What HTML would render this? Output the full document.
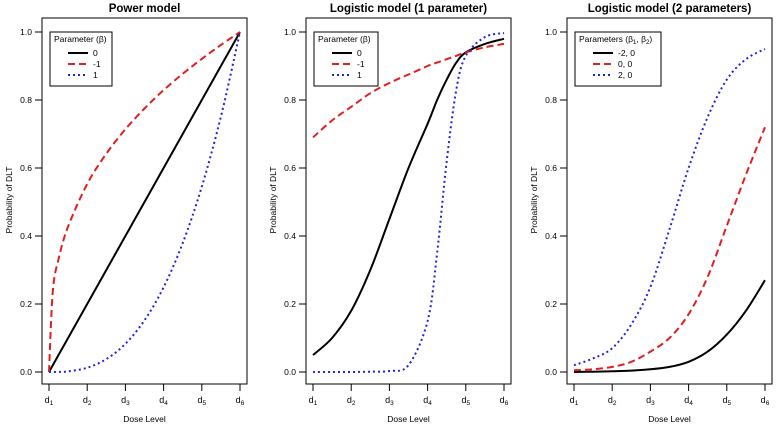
<!DOCTYPE html>
<html><head><meta charset="utf-8"><style>
body{margin:0;background:#fff}
svg{display:block;font-family:"Liberation Sans",Arial,sans-serif}
</style></head><body>
<svg id="c" width="778" height="427"></svg>
<script>
const doseLabels=["1","2","3","4","5","6"];
const yTicks=[0,0.2,0.4,0.6,0.8,1.0];
const panelTitles=["Power model","Logistic model (1 parameter)","Logistic model (2 parameters)"];
const legendTitles=["Parameter (\u03B2)","Parameter (\u03B2)","Parameters (\u03B2<tspan font-size='6' dy='2'>1</tspan><tspan dy='-2'>, \u03B2</tspan><tspan font-size='6' dy='2'>2</tspan><tspan dy='-2'>)</tspan>"];
const legendLabels=[["0","-1","1"],["0","-1","1"],["-2, 0","0, 0","2, 0"]];
const powerX=[1,1.1,1.25,1.5,2,2.5,3,3.5,4,4.5,5,5.5,6];
const powerBlack=[0,0.02,0.05,0.1,0.2,0.3,0.4,0.5,0.6,0.7,0.8,0.9,1];
const powerRed=[0,0.237,0.332,0.428,0.553,0.642,0.714,0.775,0.829,0.877,0.921,0.962,1];
const powerBlue=[0,0,0.0003,0.0019,0.0126,0.038,0.083,0.152,0.249,0.379,0.545,0.751,1];
const log1X=[1,1.5,2,2.5,3,3.5,4,4.25,4.5,4.75,5,5.5,6];
const log1Black=[0.05,0.10,0.18,0.30,0.45,0.60,0.73,0.80,0.86,0.91,0.94,0.965,0.98];
const log1Red=[0.69,0.74,0.78,0.82,0.85,0.875,0.90,0.91,0.92,0.93,0.94,0.955,0.965];
const log1Blue=[0,0,0,0.001,0.003,0.02,0.15,0.35,0.62,0.83,0.93,0.985,0.997];
const log2X=[1,1.5,2,2.5,3,3.5,4,4.5,5,5.5,6];
const log2Black=[0,0.001,0.002,0.004,0.008,0.015,0.03,0.06,0.11,0.18,0.27];
const log2Red=[0.005,0.008,0.015,0.03,0.06,0.1,0.17,0.28,0.43,0.58,0.72];
const log2Blue=[0.02,0.04,0.07,0.14,0.25,0.42,0.6,0.75,0.86,0.92,0.95];
const panels=[[powerX,[powerBlack,powerRed,powerBlue]],[log1X,[log1Black,log1Red,log1Blue]],[log2X,[log2Black,log2Red,log2Blue]]];
const boxL=[42,306,567],boxW=205,boxT=18,boxB=384;
const styles=[{c:"#000",d:""},{c:"#df2020",d:"7,4"},{c:"#2222dd",d:"2,3"}];
const svg=document.getElementById('c');const NS="http://www.w3.org/2000/svg";
function mk(t,a,p){const e=document.createElementNS(NS,t);for(const k in a)e.setAttribute(k,a[k]);(p||svg).appendChild(e);return e;}
function yS(v){return 372-v*340;}
function smooth(pts){let d="M"+pts[0][0]+","+pts[0][1];for(let i=0;i<pts.length-1;i++){const p0=pts[Math.max(0,i-1)],p1=pts[i],p2=pts[i+1],p3=pts[Math.min(pts.length-1,i+2)];
const c1=[p1[0]+(p2[0]-p0[0])/6,p1[1]+(p2[1]-p0[1])/6],c2=[p2[0]-(p3[0]-p1[0])/6,p2[1]-(p3[1]-p1[1])/6];
d+=" C"+c1[0].toFixed(1)+","+c1[1].toFixed(1)+" "+c2[0].toFixed(1)+","+c2[1].toFixed(1)+" "+p2[0].toFixed(1)+","+p2[1].toFixed(1);}return d;}
panels.forEach((P,pi)=>{
  const L=boxL[pi];const xS=v=>L+7+(v-1)*(boxW-14)/5;
  const g=mk('g',{});
  
  
  const t=mk('text',{x:L+boxW/2,y:12,'text-anchor':'middle','font-size':'11.5','font-weight':'bold'},g);t.textContent=panelTitles[pi];
  
  
  const box=mk('rect',{x:L,y:boxT,width:boxW,height:boxB-boxT,fill:'none',stroke:'#000','stroke-width':1},g);
  
  
  yTicks.forEach(v=>{mk('line',{x1:L-7,x2:L,y1:yS(v),y2:yS(v),stroke:'#000'},g);
    const tl=mk('text',{x:L-10,y:yS(v)+3,'text-anchor':'end','font-size':'8.5'},g);tl.textContent=v.toFixed(1);
    
    });
  doseLabels.forEach((s,i)=>{const x=xS(i+1);mk('line',{x1:x,x2:x,y1:boxB,y2:boxB+7,stroke:'#000'},g);
    const tl=mk('text',{x:x,y:403,'text-anchor':'middle','font-size':'9'},g);tl.innerHTML='d<tspan font-size="6.5" dy="2">'+s+'</tspan>';
    
    });
  const xt=mk('text',{x:L+boxW/2,y:422,'text-anchor':'middle','font-size':'8.5'},g);xt.textContent='Dose Level';
  
  
  const yt=mk('text',{x:0,y:0,transform:'translate('+(L-30)+',200) rotate(-90)','text-anchor':'middle','font-size':'8.5'},g);yt.textContent='Probability of DLT';
  
  
  P[1].forEach((ser,si)=>{const pts=ser.map((v,i)=>[xS(P[0][i]),yS(v)]);
    const p=mk('path',{d:smooth(pts),fill:'none',stroke:styles[si].c,'stroke-width':2,'stroke-dasharray':styles[si].d},g);
    
    });
  const lw=pi==2?86:pi==1?64:62;const lx=L+8;
  const lg=mk('g',{},g);
  
  
  mk('rect',{x:lx,y:32,width:lw,height:54,fill:'#fff',stroke:'#000'},lg);
  const lt=mk('text',{x:lx+4,y:42,'font-size':'8.5'},lg);lt.innerHTML=legendTitles[pi];
  legendLabels[pi].forEach((s,si)=>{const y=53+si*11;
    mk('line',{x1:lx+18,x2:lx+38,y1:y,y2:y,stroke:styles[si].c,'stroke-width':2,'stroke-dasharray':styles[si].d},lg);
    const e=mk('text',{x:lx+43,y:y+3,'font-size':'8.5'},lg);e.textContent=s;
    
    });
});
</script>
</body></html>
